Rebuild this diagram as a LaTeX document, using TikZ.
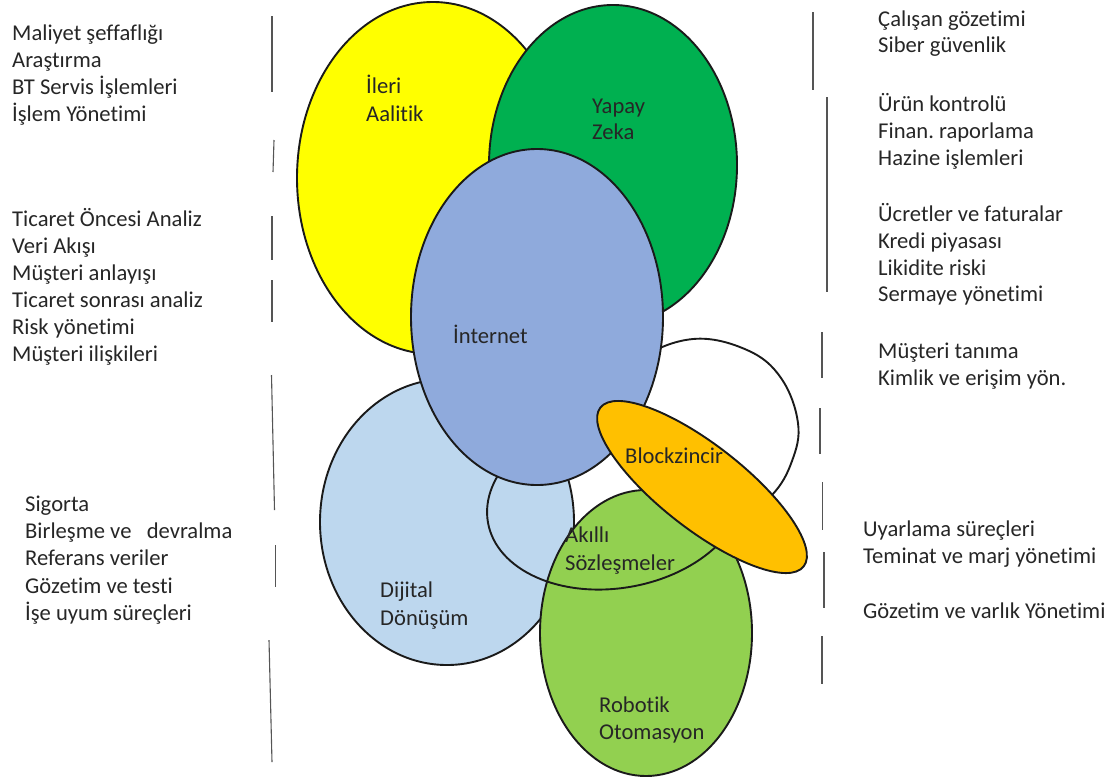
\documentclass[tikz,border=0pt]{standalone}
\usepackage{fontspec}
\setmainfont{Carlito}[Ligatures=NoCommon]
\usetikzlibrary{shapes.geometric}
\definecolor{cYel}{HTML}{FFFF00}
\definecolor{cYap}{HTML}{00B050}
\definecolor{cInt}{HTML}{8FAADC}
\definecolor{cDig}{HTML}{BDD7EE}
\definecolor{cRob}{HTML}{92D050}
\definecolor{cBlk}{HTML}{FFC000}
\definecolor{lineC}{HTML}{1A1A1A}
\definecolor{txtC}{HTML}{262626}
\definecolor{sepC}{HTML}{555555}
\frenchspacing
\begin{document}
\begin{tikzpicture}[x=1pt,y=-1pt,
  blob/.style={ellipse, draw=lineC, line width=1.9pt, inner sep=0pt, outer sep=0pt},
  lbl/.style={anchor=base west, inner sep=0pt, font=\fontsize{22.6}{27}\selectfont, text=txtC},
  sepline/.style={draw=sepC, line width=1.1pt}]
\useasboundingbox (0,0) rectangle (1115,780);

% ---- ellipses (drawing order matters) ----
\node[blob, fill=cDig, minimum width=254pt, minimum height=286pt] (dig) at (447,522) {};
\node[blob, fill=cRob, minimum width=212pt, minimum height=286pt] (rob) at (646,633) {};
\node[blob, minimum width=260pt, minimum height=176pt, rotate=10] (akilli) at (616,500) {};
\draw[fill=white, draw=lineC, line width=1.9pt] plot[smooth cycle, tension=0.65] coordinates
  {(640,360) (693,339) (747,350) (781,378) (798,423) (792,461) (772,495) (735,522) (680,500) (628,450) (615,400)};
\node[blob, fill=cYel, minimum width=272pt, minimum height=352pt] (ileri) at (433,178) {};
\node[blob, fill=cYap, minimum width=248pt, minimum height=320pt] (yapay) at (613,165) {};
\node[blob, fill=cInt, minimum width=252pt, minimum height=336pt] (inet) at (537,317) {};
\node[blob, fill=cBlk, minimum width=258pt, minimum height=84pt, rotate=-38] (blk) at (702,487) {};

% ---- ellipse labels ----
\node[lbl] (t-ileri1) at (366,93) {İleri};
\node[lbl] (t-ileri2) at (366,121) {Aalitik};
\node[lbl] (t-yap1) at (592,113) {Yapay};
\node[lbl] (t-yap2) at (592,139) {Zeka};
\node[lbl] (t-inet) at (453,343) {İnternet};
\node[lbl] (t-blk) at (625,463) {Blockzincir};
\node[lbl] (t-ak1) at (565,542) {Akıllı};
\node[lbl] (t-ak2) at (565,570) {Sözleşmeler};
\node[lbl] (t-dig1) at (380,597) {Dijital};
\node[lbl] (t-dig2) at (380,625) {Dönüşüm};
\node[lbl] (t-rob1) at (599,712) {Robotik};
\node[lbl] (t-rob2) at (599,739) {Otomasyon};

% ---- left column ----
\foreach \t [count=\i from 0] in {Maliyet şeffaflığı, Araştırma, BT Servis İşlemleri, İşlem Yönetimi}
  \node[lbl] (la-\i) at (12,40+27.3*\i) {\t};
\foreach \t [count=\i from 0] in {Ticaret Öncesi Analiz, Veri Akışı, Müşteri anlayışı, Ticaret sonrası analiz, Risk yönetimi, Müşteri ilişkileri}
  \node[lbl] (lb-\i) at (12,226.7+27*\i) {\t};
\foreach \t [count=\i from 0] in {Sigorta, Birleşme ve~~~devralma, Referans veriler, Gözetim ve testi, İşe uyum süreçleri}
  \node[lbl] (lc-\i) at (25,511.7+27.1*\i) {\t};

% ---- right column ----
\foreach \t [count=\i from 0] in {Çalışan gözetimi, Siber güvenlik}
  \node[lbl] (ra-\i) at (878,26+26.7*\i) {\t};
\foreach \t [count=\i from 0] in {Ürün kontrolü, Finan. raporlama, Hazine işlemleri}
  \node[lbl] (rb-\i) at (878,111.7+27*\i) {\t};
\foreach \t [count=\i from 0] in {Ücretler ve faturalar, Kredi piyasası, Likidite riski, Sermaye yönetimi}
  \node[lbl] (rc-\i) at (878,221.7+26.7*\i) {\t};
\foreach \t [count=\i from 0] in {Müşteri tanıma, Kimlik ve erişim yön.}
  \node[lbl] (rd-\i) at (878,358.3+26.7*\i) {\t};
\node[lbl] (re-0) at (863,536.7) {Uyarlama süreçleri};
\node[lbl] (re-1) at (863,563.3) {Teminat ve marj yönetimi};
\node[lbl] (re-2) at (863,618.3) {Gözetim ve varlık Yönetimi};

% ---- separator strokes ----
\coordinate (l1a) at (272,16);  \coordinate (l1b) at (272,92);
\coordinate (l2a) at (274,140); \coordinate (l2b) at (273,172);
\coordinate (l3a) at (272,216); \coordinate (l3b) at (272,260);
\coordinate (l4a) at (272,280); \coordinate (l4b) at (272,322);
\coordinate (l5a) at (271.5,375); \coordinate (l5b) at (274.5,510);
\coordinate (l6a) at (275.5,545); \coordinate (l6b) at (275.5,587);
\coordinate (l7a) at (269,640); \coordinate (l7b) at (272,762);
\foreach \k in {1,...,7} \draw[sepline] (l\k a) -- (l\k b);
\coordinate (r1a) at (813,12);  \coordinate (r1b) at (813,90);
\coordinate (r2a) at (827,97);  \coordinate (r2b) at (827,292);
\coordinate (r3a) at (822,332); \coordinate (r3b) at (822,378);
\coordinate (r4a) at (820,408); \coordinate (r4b) at (820,454);
\coordinate (r5a) at (822.5,482); \coordinate (r5b) at (822.5,530);
\coordinate (r6a) at (824,552); \coordinate (r6b) at (824,608);
\coordinate (r7a) at (822,636); \coordinate (r7b) at (822,684);
\foreach \k in {1,...,7} \draw[sepline] (r\k a) -- (r\k b);
\end{tikzpicture}
\end{document}
